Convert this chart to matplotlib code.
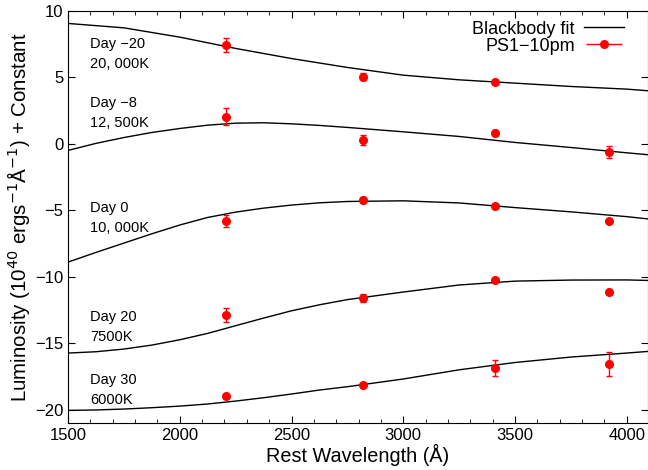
import matplotlib
matplotlib.use("Agg")
import matplotlib.pyplot as plt
import matplotlib.ticker as mticker
import numpy as np
from matplotlib.legend_handler import HandlerErrorbar

plt.rcParams["font.family"] = ["Liberation Sans", "DejaVu Sans"]

# ── data ────────────────────────────────────────────────────────────────────
wl = [2205, 2820, 3410, 3920]

lum_m20 = [7.44, 5.04, 4.68, np.nan]
err_m20 = [0.55, 0.28, 0.15, np.nan]
lum_m8 = [2.05, 0.30, 0.83, -0.60]
err_m8 = [0.65, 0.36, 0.20, 0.45]
lum_0 = [-5.79, -4.23, -4.71, -5.84]
err_0 = [0.45, 0.20, 0.15, 0.15]
lum_20 = [-12.88, -11.63, -10.23, -11.15]
err_20 = [0.53, 0.30, 0.15, 0.15]
lum_30 = [-19.00, -18.12, -16.86, -16.56]
err_30 = [0.15, 0.15, 0.62, 0.92]

# blackbody fit curves
wl_coarse = [1500, 1750, 2000, 2250, 2500, 2750, 3000, 3250, 3500, 3750, 4000, 4100]
wl_fine = [1500, 1625, 1750, 1875, 2000, 2125, 2250, 2375, 2500, 2625, 2750,
           3000, 3250, 3500, 3750, 4000, 4100]

fit_m20 = [9.05, 8.72, 8.02, 7.17, 6.41, 5.74, 5.16, 4.81, 4.56, 4.31, 4.11, 3.98]
fit_m8 = [-0.50, 0.03, 0.47, 0.85, 1.15, 1.40, 1.55, 1.58, 1.50, 1.38, 1.23,
          0.90, 0.55, 0.10, -0.28, -0.68, -0.83]
fit_0 = [-8.90, -8.17, -7.47, -6.77, -6.11, -5.54, -5.14, -4.84, -4.61, -4.44, -4.34,
         -4.29, -4.45, -4.80, -5.12, -5.48, -5.66]
fit_20 = [-15.74, -15.64, -15.44, -15.14, -14.74, -14.26, -13.68, -13.11, -12.56, -12.11, -11.72,
          -11.15, -10.62, -10.33, -10.25, -10.24, -10.28]
fit_30 = [-20.05, -20.02, -19.95, -19.85, -19.73, -19.57, -19.35, -19.10, -18.82, -18.52, -18.27,
          -17.69, -17.00, -16.45, -16.04, -15.74, -15.61]

labels_day = ["Day \u221220", "Day \u22128", "Day 0", "Day 20", "Day 30"]
labels_temp = ["20, 000K", "12, 500K", "10, 000K", "7500K", "6000K"]
label_y = [7.5, 3.1, -4.8, -13.0, -17.8]

# ── plot ────────────────────────────────────────────────────────────────────
fig = plt.figure(figsize=(6.48, 4.70), dpi=100)
ax = fig.add_axes([0.105, 0.1, 0.895, 0.877])

fits = [(wl_coarse, fit_m20), (wl_fine, fit_m8), (wl_fine, fit_0),
        (wl_fine, fit_20), (wl_fine, fit_30)]
lums = [lum_m20, lum_m8, lum_0, lum_20, lum_30]
errs = [err_m20, err_m8, err_0, err_20, err_30]

for i, ((fx, fy), l, e) in enumerate(zip(fits, lums, errs)):
    ax.plot(fx, fy, color="black", lw=1.0,
            label="Blackbody fit" if i == 0 else "_nolegend_")
    ax.errorbar(wl, l, yerr=e, fmt="o", color="red", ms=5.5, elinewidth=1.0,
                capsize=2.5, capthick=1.0, label="_nolegend_", zorder=3)

for day, temp, y in zip(labels_day, labels_temp, label_y):
    ax.text(1600, y, day, fontsize=10.5, va="center", ha="left")
    ax.text(1600, y - 1.5, temp, fontsize=10.5, va="center", ha="left")

# legend proxy: horizontal error bar like gnuplot's key
proxy = ax.errorbar([], [], xerr=[], fmt="o", color="red", ms=5.5, elinewidth=1.0,
                    capsize=2.5, capthick=1.0, label="PS1\u221210pm")

ax.set_xlim(1500, 4095)
ax.set_ylim(-21, 10)
ax.xaxis.set_major_locator(mticker.MultipleLocator(500))
ax.xaxis.set_minor_locator(mticker.MultipleLocator(100))
ax.yaxis.set_major_locator(mticker.MultipleLocator(5))
ax.tick_params(which="both", direction="in", top=True, right=True, labelsize=12)
ax.tick_params(which="major", length=5)
ax.tick_params(which="minor", length=3)
ax.yaxis.set_major_formatter(mticker.FuncFormatter(lambda v, p: f"{v:.0f}".replace("-", "\u2212")))

ax.set_xlabel("Rest Wavelength (\u00c5)", fontsize=14.3, labelpad=1)
ax.set_ylabel("Luminosity (10$^{40}$ ergs$^{\u22121}$\u00c5$^{\u22121}$) + Constant",
              fontsize=14.8, labelpad=1)

ax.legend(loc="upper right", bbox_to_anchor=(0.975, 1.0), frameon=False,
          markerfirst=False, fontsize=13, handlelength=2.2, handletextpad=0.5,
          labelspacing=0.0, borderaxespad=0.35, borderpad=0.2,
          handler_map={type(proxy): HandlerErrorbar(xerr_size=1.0)})

fig.savefig("out.png", dpi=100)
